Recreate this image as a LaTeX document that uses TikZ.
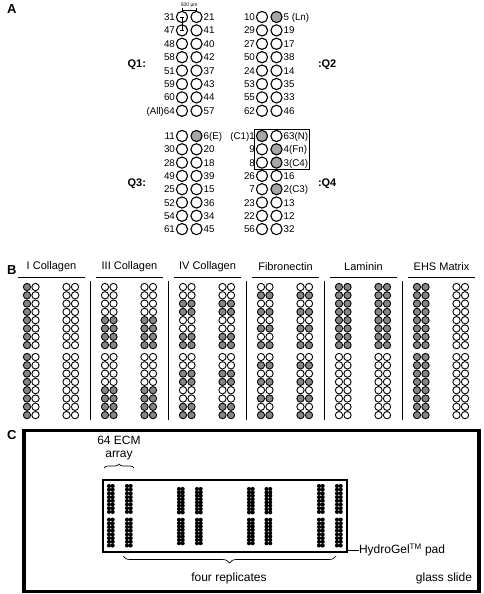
\documentclass[tikz,border=0pt]{standalone}
\usepackage{fontspec}
\setmainfont{Liberation Sans}
\usetikzlibrary{decorations.pathreplacing,fit}
\colorlet{fA0}{white}
\definecolor{fA1}{gray}{0.65}
\colorlet{fB0}{white}
\definecolor{fB1}{gray}{0.52}
\newcommand\qrow[7]{%
  \node[spotA, fill=#6] (#1a) at (#2,#3) {};
  \node[spotA, fill=#7] (#1b) at (#2+14.5,#3) {};
  \node[num, anchor=east] (#1l) at ([xshift=-1.5pt]#1a.west) {#4};
  \node[num, anchor=west] (#1r) at ([xshift=1.5pt]#1b.east) {#5};
}
\begin{document}
\begin{tikzpicture}[x=1pt,y=-1pt,
  every node/.style={inner sep=0pt,outer sep=0pt},
  panel/.style={font=\fontsize{13}{15}\selectfont\bfseries},
  num/.style={font=\fontsize{9.8}{11}\selectfont, text height=7pt, text depth=0pt},
  qlab/.style={font=\fontsize{11}{13}\selectfont\bfseries, text height=7.9pt, text depth=0pt},
  spotA/.style={circle,draw,line width=1.1pt,minimum size=11.2pt},
  spotB/.style={circle,draw,line width=0.9pt,minimum size=7.3pt},
  title/.style={font=\fontsize{11}{13}\selectfont},
  ctext/.style={font=\fontsize{12}{14}\selectfont},
  sep/.style={line width=1.2pt},
  rule/.style={line width=1pt},
]
\useasboundingbox (0,0) rectangle (483,594);

% ---------------- Panel A ----------------
\node[panel, anchor=north west] (labA) at (7,5) {A};

\qrow{q1r1}{182}{17}{31}{21}{fA0}{fA0}
\qrow{q1r2}{182}{30.4}{47}{41}{fA0}{fA0}
\qrow{q1r3}{182}{43.8}{48}{40}{fA0}{fA0}
\qrow{q1r4}{182}{57.2}{58}{42}{fA0}{fA0}
\qrow{q1r5}{182}{70.6}{51}{37}{fA0}{fA0}
\qrow{q1r6}{182}{84}{59}{43}{fA0}{fA0}
\qrow{q1r7}{182}{97.4}{60}{44}{fA0}{fA0}
\qrow{q1r8}{182}{110.8}{(All)64}{57}{fA0}{fA0}

\qrow{q2r1}{262}{17}{10}{5 (Ln)}{fA0}{fA1}
\qrow{q2r2}{262}{30.4}{29}{19}{fA0}{fA0}
\qrow{q2r3}{262}{43.8}{27}{17}{fA0}{fA0}
\qrow{q2r4}{262}{57.2}{50}{38}{fA0}{fA0}
\qrow{q2r5}{262}{70.6}{24}{14}{fA0}{fA0}
\qrow{q2r6}{262}{84}{53}{35}{fA0}{fA0}
\qrow{q2r7}{262}{97.4}{55}{33}{fA0}{fA0}
\qrow{q2r8}{262}{110.8}{62}{46}{fA0}{fA0}

\qrow{q3r1}{182}{136}{11}{6(E)}{fA0}{fA1}
\qrow{q3r2}{182}{149.3}{30}{20}{fA0}{fA0}
\qrow{q3r3}{182}{162.6}{28}{18}{fA0}{fA0}
\qrow{q3r4}{182}{175.9}{49}{39}{fA0}{fA0}
\qrow{q3r5}{182}{189.2}{25}{15}{fA0}{fA0}
\qrow{q3r6}{182}{202.5}{52}{36}{fA0}{fA0}
\qrow{q3r7}{182}{215.8}{54}{34}{fA0}{fA0}
\qrow{q3r8}{182}{229.1}{61}{45}{fA0}{fA0}

\qrow{q4r1}{262}{136}{(C1)1}{63(N)}{fA1}{fA0}
\qrow{q4r2}{262}{149.3}{9}{4(Fn)}{fA0}{fA1}
\qrow{q4r3}{262}{162.6}{8}{3(C4)}{fA0}{fA1}
\qrow{q4r4}{262}{175.9}{26}{16}{fA0}{fA0}
\qrow{q4r5}{262}{189.2}{7}{2(C3)}{fA0}{fA1}
\qrow{q4r6}{262}{202.5}{23}{13}{fA0}{fA0}
\qrow{q4r7}{262}{215.8}{22}{12}{fA0}{fA0}
\qrow{q4r8}{262}{229.1}{56}{32}{fA0}{fA0}

\node[draw, line width=1pt, inner xsep=1.8pt, inner ysep=1.2pt,
      fit=(q4r1a)(q4r1r)(q4r3a)(q4r3r)] (q4box) {};

\node[qlab, anchor=east] (Q1) at (146,63.9) {Q1:};
\node[qlab, anchor=west] (Q2) at (318,63.9) {:Q2};
\node[qlab, anchor=east] (Q3) at (146,182.5) {Q3:};
\node[qlab, anchor=west] (Q4) at (318,182.5) {:Q4};

% scale bars
\coordinate (sb1) at (182,10);
\coordinate (sb2) at (196.5,10);
\draw[line width=0.7pt] (sb1) -- (sb2);
\draw[line width=0.7pt] ([yshift=-1.6pt]sb1) -- ([yshift=1.6pt]sb1);
\draw[line width=0.7pt] ([yshift=-1.6pt]sb2) -- ([yshift=1.6pt]sb2);
\node[font=\fontsize{5}{6}\selectfont, anchor=south] (sbl) at (189.25,7.5) {500 µm};
\draw[line width=0.8pt] (q1r1a.center) -- (q1r2a.center);
\draw[line width=0.8pt] ([xshift=-2pt]q1r1a.center) -- ([xshift=2pt]q1r1a.center);
\draw[line width=0.8pt] ([xshift=-2pt]q1r2a.center) -- ([xshift=2pt]q1r2a.center);

% ---------------- Panel B ----------------
\node[panel, anchor=west] (labB) at (7,270) {B};
\foreach \t [count=\gi from 0] in {I Collagen, III Collagen, IV Collagen, Fibronectin, Laminin, EHS Matrix} {
  \pgfmathsetmacro\xo{18+78*\gi}
  \node[title] (t\gi) at (\xo+33.5,267) {\t};
  \draw[rule] (\xo,277) -- (\xo+67,277);
}
\foreach \gi in {1,...,5} {
  \pgfmathsetmacro\xs{18+78*\gi-5.5}
  \draw[sep] (\xs,281) -- (\xs,420);
}
\foreach \gi in {0,...,5} \foreach \bx in {0,1} \foreach \by in {0,1} \foreach \cc in {0,1} \foreach \rw in {1,...,8} {
  \pgfmathsetmacro\xx{18+78*\gi+9+39.5*\bx+8.5*\cc}
  \pgfmathsetmacro\yy{287+70*\by+8.3*(\rw-1)}
  \pgfmathtruncatemacro\fl{(\gi==0)*(\bx==0)*(\cc==0)+(\gi==1)*(\rw>4)+(\gi==2)*(mod(\rw-1,4)>1)+(\gi==3)*(mod(\rw,2)==0)+(\gi==4)*(\by==0)+(\gi==5)*(\bx==0)}
  \node[spotB, fill=fB\fl] (b\gi-\bx-\by-\cc-\rw) at (\xx,\yy) {};
}

% ---------------- Panel C ----------------
\node[panel, anchor=west] (labC) at (7,435) {C};
\node[draw, line width=3.2pt, minimum width=455pt, minimum height=160.8pt] (slide) at (251.5,511) {};
\node[draw, line width=2.2pt, minimum width=244pt, minimum height=72pt] (pad) at (225,516) {};
\foreach \bx/\yo/\p in {109/486/3.7, 127/486/3.7, 179/489/3.35, 197/489/3.35, 249/489/3.35, 266.5/489/3.35, 319/486/3.7, 337/486/3.7} {
  \foreach \cc in {0,1} \foreach \rw in {0,...,7} {
    \fill (\bx+3.7*\cc, \yo+\p*\rw) circle (2.05);
    \fill (\bx+3.7*\cc, \yo+8*\p+4+\p*\rw) circle (2.05);
  }
}
\node[ctext, text height=8.6pt, text depth=0pt] (ecm) at (119,440) {64 ECM};
\node[ctext, text height=6.4pt, text depth=0pt] (arr) at (119,454) {array};
\draw[decorate, decoration={brace, amplitude=4pt}, line width=0.7pt] (104,468) -- (134,468);
\draw[decorate, decoration={brace, amplitude=7pt}, line width=0.7pt] (336,556) -- (123,556);
\node[ctext] (four) at (229,578) {four replicates};
\node[ctext, anchor=east] (gs) at (472,578) {glass slide};
\node[ctext, anchor=west] (hg) at (359,550) {HydroGel\textsuperscript{TM} pad};
\draw[line width=0.8pt] (pad.east |- hg.west) -- (hg.west);
\end{tikzpicture}
\end{document}
